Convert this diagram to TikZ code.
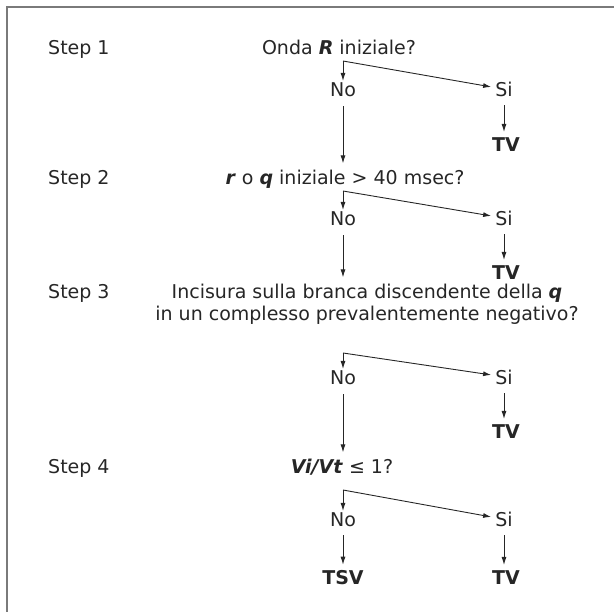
\documentclass[tikz,border=0pt]{standalone}
\usepackage{fontspec}
\setmainfont{DejaVu Sans}
\usetikzlibrary{arrows.meta}
\definecolor{ink}{HTML}{262626}
\definecolor{framegray}{HTML}{7A7A7A}
\begin{document}
\begin{tikzpicture}[x=1pt,y=-1pt,
  txt/.style={anchor=base, inner sep=0pt, text=ink, font=\fontsize{19}{23}\selectfont},
  steplabel/.style={txt, anchor=base west},
  res/.style={txt, font=\fontsize{19}{23}\selectfont\bfseries},
  link/.style={draw=ink, line width=0.9pt, -{Latex[length=8pt,width=5pt]}},
]
\useasboundingbox (0,0) rectangle (614,612);
% frame (top and left rules only)
\draw[framegray, line width=1.5pt] (614,7) -- (7,7) -- (7,612);

% ---- Step 1
\node[steplabel] (s1) at (48,55) {Step 1};
\node[txt] (q1) at (339,55) {Onda \textbf{\textit{R}} iniziale?};
\coordinate (c1) at (343,61);
\node[txt] (no1) at (343,97) {No};
\node[txt] (si1) at (504,97) {Si};
\node[res] (tv1) at (506,152) {TV};

% ---- Step 2
\node[steplabel] (s2) at (48,185) {Step 2};
\node[txt] (q2) at (345,185) {\textbf{\textit{r}} o \textbf{\textit{q}} iniziale > 40 msec?};
\coordinate (c2) at (343,191);
\node[txt] (no2) at (343,226) {No};
\node[txt] (si2) at (504,226) {Si};
\node[res] (tv2) at (506,280) {TV};

% ---- Step 3
\node[steplabel] (s3) at (48,299) {Step 3};
\node[txt] (q3a) at (367,299) {Incisura sulla branca discendente della \textbf{\textit{q}}};
\node[txt] (q3b) at (367,321) {in un complesso prevalentemente negativo?};
\coordinate (c3) at (343,353);
\node[txt] (no3) at (343,385) {No};
\node[txt] (si3) at (504,385) {Si};
\node[res] (tv3) at (506,439) {TV};

% ---- Step 4
\node[steplabel] (s4) at (48,474) {Step 4};
\node[txt] (q4) at (342,474) {\textbf{\textit{Vi/Vt}} ≤ 1?};
\coordinate (c4) at (343,490);
\node[txt] (no4) at (343,527) {No};
\node[txt] (si4) at (504,527) {Si};
\node[res] (tsv) at (343,585) {TSV};
\node[res] (tv4) at (506,585) {TV};

% ---- connectors
\foreach \k/\q in {1/q2,2/q3a,3/q4}{
  \draw[link, shorten <=9pt, shorten >=7pt] (no\k.south) -- (no\k.south |- \q.north);
}
\foreach \k in {1,2,3,4}{
  \draw[link, shorten >=2pt] (c\k) -- (c\k |- no\k.north);
  \draw[link] (c\k) -- ([xshift=-4pt,yshift=3pt]si\k.west);
  \draw[link, shorten <=8pt, shorten >=6pt] (si\k.south) -- (si\k.south |- tv\k.north);
}
\draw[link, shorten <=8pt, shorten >=6pt] (no4.south) -- (no4.south |- tsv.north);
\end{tikzpicture}
\end{document}
